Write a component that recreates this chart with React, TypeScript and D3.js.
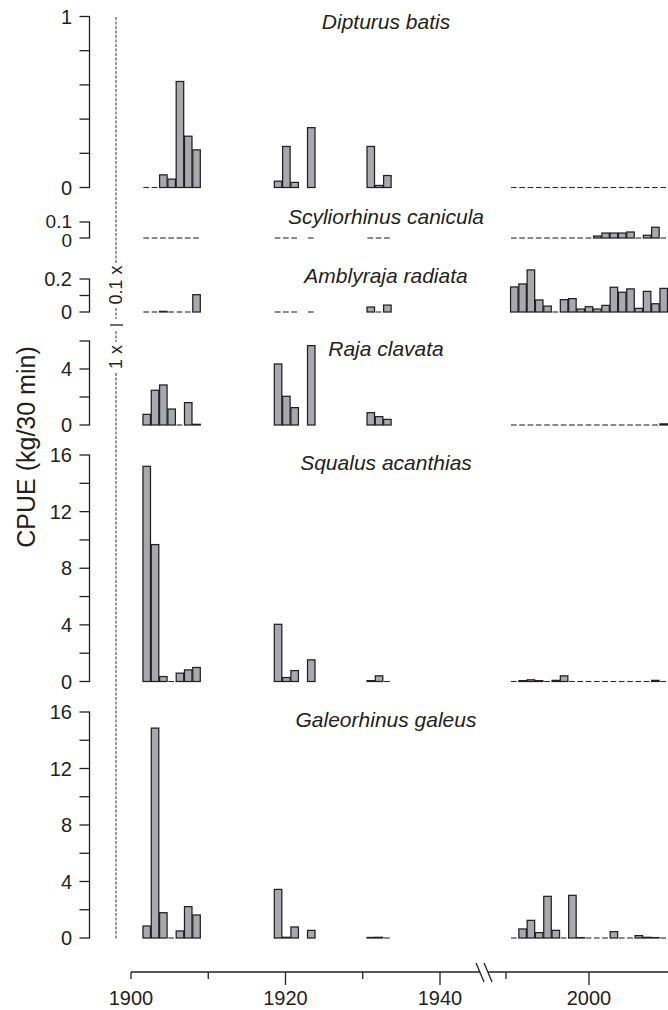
import React, { useEffect, useRef } from "react"
import * as d3 from "d3"

// survey years, one bar slot per year
const earlyYears = [1902, 1903, 1904, 1905, 1906, 1907, 1908]
const midYears = [1919, 1920, 1921, 1923]
const lateYears = [1931, 1932, 1933]
const recentYears = [
  1991, 1992, 1993, 1994, 1995, 1996, 1997, 1998, 1999, 2000, 2001, 2002, 2003, 2004, 2005, 2006, 2007, 2008, 2009,
]

// CPUE (kg/30 min) per species and period
const dipturusEarly = [0, 0, 0.074, 0.049, 0.62, 0.3, 0.22]
const dipturusMid = [0.037, 0.24, 0.03, 0.35]
const dipturusLate = [0.24, 0.012, 0.07]
const dipturusRecent = [0, 0, 0, 0, 0, 0, 0, 0, 0, 0, 0, 0, 0, 0, 0, 0, 0, 0, 0]

const scyliorhinusEarly = [0, 0, 0, 0, 0, 0, 0]
const scyliorhinusMid = [0, 0, 0, 0]
const scyliorhinusLate = [0, 0, 0]
const scyliorhinusRecent = [0, 0, 0, 0, 0, 0, 0, 0, 0, 0, 0.0125, 0.031, 0.031, 0.031, 0.0375, 0, 0.017, 0.067, 0]

const amblyrajaEarly = [0, 0, 0.004, 0, 0, 0, 0.105]
const amblyrajaMid = [0, 0, 0, 0]
const amblyrajaLate = [0.03, 0, 0.042]
const amblyrajaRecent = [
  0.152, 0.17, 0.255, 0.073, 0.036, 0, 0.075, 0.081, 0.018, 0.032, 0.018, 0.04, 0.15, 0.12, 0.14, 0.022, 0.125, 0.05,
  0.143,
]

const rajaEarly = [0.76, 2.48, 2.86, 1.14, 0, 1.6, 0.05]
const rajaMid = [4.36, 2.05, 1.24, 5.67]
const rajaLate = [0.88, 0.6, 0.4]
const rajaRecent = [0, 0, 0, 0, 0, 0, 0, 0, 0, 0, 0, 0, 0, 0, 0, 0, 0, 0, 0.08]

const squalusEarly = [15.2, 9.67, 0.35, 0, 0.59, 0.82, 0.99]
const squalusMid = [4.04, 0.28, 0.77, 1.53]
const squalusLate = [0.06, 0.4, 0]
const squalusRecent = [0, 0.06, 0.12, 0.06, 0, 0.08, 0.4, 0, 0, 0, 0, 0, 0, 0, 0, 0, 0, 0.08, 0]

const galeorhinusEarly = [0.85, 14.86, 1.79, 0, 0.5, 2.22, 1.63]
const galeorhinusMid = [3.44, 0.05, 0.78, 0.54]
const galeorhinusLate = [0.04, 0.05, 0]
const galeorhinusRecent = [0, 0.64, 1.25, 0.38, 2.95, 0.54, 0, 3.02, 0.03, 0, 0, 0, 0.45, 0, 0, 0.17, 0.05, 0.03, 0]

const speciesNames = [
  "Dipturus batis",
  "Scyliorhinus canicula",
  "Amblyraja radiata",
  "Raja clavata",
  "Squalus acanthias",
  "Galeorhinus galeus",
]
const speciesSeries = [
  [dipturusEarly, dipturusMid, dipturusLate, dipturusRecent],
  [scyliorhinusEarly, scyliorhinusMid, scyliorhinusLate, scyliorhinusRecent],
  [amblyrajaEarly, amblyrajaMid, amblyrajaLate, amblyrajaRecent],
  [rajaEarly, rajaMid, rajaLate, rajaRecent],
  [squalusEarly, squalusMid, squalusLate, squalusRecent],
  [galeorhinusEarly, galeorhinusMid, galeorhinusLate, galeorhinusRecent],
]
const yMax = [1, 0.1, 0.2, 6, 16, 16]
const yTicks = [
  [0, 0.2, 0.4, 0.6, 0.8, 1],
  [0, 0.1],
  [0, 0.1, 0.2],
  [0, 2, 4, 6],
  [0, 2, 4, 6, 8, 10, 12, 14, 16],
  [0, 2, 4, 6, 8, 10, 12, 14, 16],
]
const yTickLabels = [[0, 1], [0, 0.1], [0, 0.2], [0, 4], [0, 4, 8, 12, 16], [0, 4, 8, 12, 16]]

const xMinorTicks = [1900, 1910, 1930]
const xMajorTicks = [1920, 1940]
const xRightMinor = [1990]
const xRightMajor = [2000]
const xLabels = [1900, 1920, 1940, 2000]

// layout: pixel rows of each panel [zero, top], title baseline
const panelRows = [
  [187.5, 16.5, 29],
  [238, 222, 224],
  [312, 279, 283],
  [425, 341, 356],
  [681.5, 455, 470],
  [938, 712, 727],
]

const W = 668
const H = 1010
const FONT = "'Liberation Sans', Arial, Helvetica, sans-serif"
const INK = "#231f20"
const BAR_FILL = "#a7a9ac"
const BAR_STEP = 8.3
const AXIS_X = 89.5
const DASH_X = 116
const AXIS_Y = 972

export default function App() {
  const ref = useRef<SVGSVGElement>(null)

  useEffect(() => {
    const svg = d3.select(ref.current!)
    svg.selectAll("*").remove()

    const xLeft = d3.scaleLinear().domain([1900, 1940]).range([131, 440])
    const xRight = d3.scaleLinear().domain([1990, 2000]).range([589 - 10 * BAR_STEP, 589])

    const groups = [
      { years: earlyYears, x: xLeft },
      { years: midYears, x: xLeft },
      { years: lateYears, x: xLeft },
      { years: recentYears, x: xRight },
    ]

    speciesNames.forEach((name, si) => {
      const [zeroY, topY, titleY] = panelRows[si]
      const y = d3.scaleLinear().domain([0, yMax[si]]).range([zeroY, topY])
      const g = svg.append("g")

      // y axis
      g.append("line")
        .attr("x1", AXIS_X)
        .attr("x2", AXIS_X)
        .attr("y1", y(0))
        .attr("y2", y(yMax[si]))
        .attr("stroke", INK)
        .attr("stroke-width", 1.3)
      g.selectAll(".ytick")
        .data(yTicks[si])
        .enter()
        .append("line")
        .attr("x1", AXIS_X - 10)
        .attr("x2", AXIS_X + 0.6)
        .attr("y1", (d) => y(d))
        .attr("y2", (d) => y(d))
        .attr("stroke", INK)
        .attr("stroke-width", 1.3)

      // the 0.1 / 0 pair of the small panel sits very tight, nudge apart
      const tight = yTickLabels[si].length === 2 && y(0) - y(yMax[si]) < 20
      g.selectAll(".ylab")
        .data(yTickLabels[si])
        .enter()
        .append("text")
        .attr("x", 72)
        .attr("y", (d) => y(d) + (tight ? (d === 0 ? 2 : -1) : 0))
        .attr("dy", "0.36em")
        .attr("text-anchor", "end")
        .attr("font-family", FONT)
        .attr("font-size", tight ? 19 : 20)
        .attr("fill", INK)
        .text((d) => String(d))

      g.append("text")
        .attr("x", 386)
        .attr("y", titleY)
        .attr("text-anchor", "middle")
        .attr("font-family", FONT)
        .attr("font-style", "italic")
        .attr("font-size", 21)
        .attr("fill", INK)
        .text(name)

      groups.forEach((grp, gi) => {
        const values = speciesSeries[si][gi]
        const start = grp.years[0]
        const items = grp.years.map((yr, i) => ({
          left: grp.x(start - 0.5) + (yr - start) * BAR_STEP,
          v: values[i],
        }))
        g.selectAll(".bar" + gi)
          .data(items.filter((d) => d.v > 0))
          .enter()
          .append("rect")
          .attr("x", (d) => d.left + 0.4)
          .attr("width", BAR_STEP - 0.8)
          .attr("y", (d) => y(d.v))
          .attr("height", (d) => y(0) - y(d.v))
          .attr("fill", BAR_FILL)
          .attr("stroke", INK)
          .attr("stroke-width", 1.25)
        g.selectAll(".zero" + gi)
          .data(items.filter((d) => d.v === 0))
          .enter()
          .append("line")
          .attr("x1", (d) => d.left + 0.8)
          .attr("x2", (d) => d.left + BAR_STEP - 1.8)
          .attr("y1", y(0))
          .attr("y2", y(0))
          .attr("stroke", "#2a2a2a")
          .attr("stroke-width", 1.1)
      })
    })

    // x axis with a break
    const breakX = xLeft(1945.7)
    const ax = svg.append("g").attr("stroke", INK).attr("stroke-width", 1.3)
    ax.append("line").attr("x1", xLeft(1900)).attr("x2", breakX - 4).attr("y1", AXIS_Y).attr("y2", AXIS_Y)
    ax.append("line").attr("x1", breakX + 4).attr("x2", W).attr("y1", AXIS_Y).attr("y2", AXIS_Y)
    ;[-4, 4].forEach((off) => {
      ax.append("line")
        .attr("x1", breakX + off - 4)
        .attr("x2", breakX + off + 4)
        .attr("y1", AXIS_Y - 9)
        .attr("y2", AXIS_Y + 10)
    })
    const tick = (x: number, len: number) =>
      ax.append("line").attr("x1", x).attr("x2", x).attr("y1", AXIS_Y).attr("y2", AXIS_Y + len)
    xMinorTicks.forEach((t) => tick(xLeft(t), 7))
    xMajorTicks.forEach((t) => tick(xLeft(t), 13))
    xRightMinor.forEach((t) => tick(xRight(t), 7))
    xRightMajor.forEach((t) => tick(xRight(t), 13))

    svg
      .selectAll(".xlab")
      .data(xLabels)
      .enter()
      .append("text")
      .attr("x", (d) => (d < 1950 ? xLeft(d) : xRight(d)))
      .attr("y", 1005)
      .attr("text-anchor", "middle")
      .attr("font-family", FONT)
      .attr("font-size", 20)
      .attr("fill", INK)
      .text((d) => String(d))

    // vertical scale divider: 0.1x panels above, 1x below
    const dash = svg.append("g").attr("stroke", "#333").attr("stroke-width", 1).attr("stroke-dasharray", "3,1.5")
    ;[
      [17, 263],
      [308, 319],
      [331, 342],
      [373, 940],
    ].forEach(([a, b]) => {
      dash.append("line").attr("x1", DASH_X).attr("x2", DASH_X).attr("y1", a).attr("y2", b)
    })
    svg
      .append("line")
      .attr("x1", DASH_X - 6)
      .attr("x2", DASH_X + 7)
      .attr("y1", 325)
      .attr("y2", 325)
      .attr("stroke", INK)
      .attr("stroke-width", 1.3)
    ;[
      ["0.1 x", 285],
      ["1 x", 357],
    ].forEach(([txt, cy]) => {
      svg
        .append("text")
        .attr("transform", `translate(${DASH_X},${cy}) rotate(-90)`)
        .attr("text-anchor", "middle")
        .attr("dy", "0.36em")
        .attr("font-family", FONT)
        .attr("font-size", 18)
        .attr("fill", INK)
        .text(txt as string)
    })

    svg
      .append("text")
      .attr("transform", `translate(26,447) rotate(-90)`)
      .attr("text-anchor", "middle")
      .attr("dy", "0.36em")
      .attr("font-family", FONT)
      .attr("font-size", 25)
      .attr("fill", INK)
      .text("CPUE (kg/30 min)")
  }, [])

  return (
    <svg
      ref={ref}
      width={W}
      height={H}
      style={{ position: "absolute", left: 0, top: 0, background: "#fff" }}
    />
  )
}
